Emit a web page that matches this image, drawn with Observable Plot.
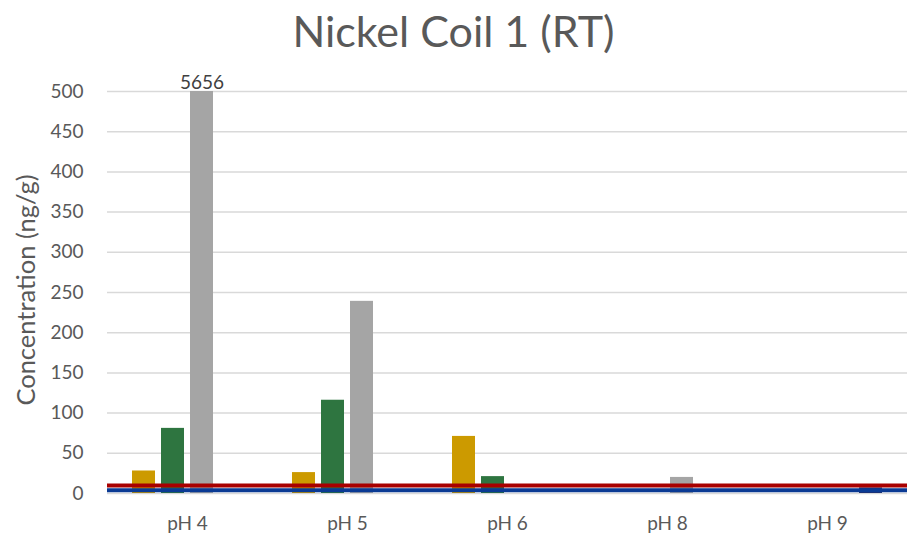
<!DOCTYPE html>
<html>
<head>
<meta charset="utf-8">
<script src="https://cdn.jsdelivr.net/npm/d3@7"></script>
<script src="https://cdn.jsdelivr.net/npm/@observablehq/plot@0.6"></script>
<style>
  html, body { margin: 0; padding: 0; background: #fff; }
  #wrap { position: relative; width: 907px; height: 536px; font-family: Lato, "Open Sans", sans-serif; }
  #title { position: absolute; left: 0; top: 3px; width: 907px; text-align: center; font-size: 43px; line-height: 56px; color: #595959; }
  #ylabel { position: absolute; left: 25px; top: 290px; transform: translate(-50%, -50%) rotate(-90deg); white-space: nowrap; font-size: 25.5px; color: #595959; }
  #chart { position: absolute; left: 0; top: 0; }
</style>
</head>
<body>
<div id="wrap">
  <div id="chart"></div>
  <div id="title">Nickel Coil 1 (RT)</div>
  <div id="ylabel">Concentration (ng/g)</div>
</div>
<script>
// pH groups along the bottom
const phLevels = ["pH 4", "pH 5", "pH 6", "pH 8", "pH 9"];
// four sample series, one bar each per pH group (ng/g)
const series1 = [28, 26, 71, 0, 0];
const series2 = [81, 116, 21, 0, 0];
const series3 = [5656, 239, 0, 20, 0];
const series4 = [0, 0, 0, 0, 7];
const seriesNames = ["S1", "S2", "S3", "S4"];
const seriesColors = ["#CC9A00", "#2E7540", "#A5A5A5", "#22306E"];
// reference levels drawn as horizontal lines
const limitRed = 10;
const limitBlue = 4;
const yTicks = [0, 50, 100, 150, 200, 250, 300, 350, 400, 450, 500];
const yMax = 500;

const allSeries = [series1, series2, series3, series4];
const rows = [];
phLevels.forEach((ph, i) => {
  allSeries.forEach((vals, j) => {
    rows.push({ph, series: seriesNames[j], value: vals[i]});
  });
});
// values above the axis maximum get their number written on top
const overflow = rows.filter(d => d.value > yMax);

const chart = Plot.plot({
  width: 907,
  height: 536,
  marginTop: 91,
  marginBottom: 43,
  marginLeft: 107,
  marginRight: 0,
  style: {fontFamily: "Lato, 'Open Sans', sans-serif", color: "#595959", background: "transparent"},
  fx: {domain: phLevels, padding: 0, label: null},
  x: {domain: seriesNames, paddingInner: 0.21, paddingOuter: 0.815, axis: null},
  y: {domain: [0, yMax], clamp: true},
  color: {domain: seriesNames, range: seriesColors},
  marks: [
    Plot.gridY(yTicks, {stroke: "#d9d9d9", strokeOpacity: 1, strokeWidth: 1.5}),
    Plot.axisY(yTicks, {tickSize: 0, tickPadding: 24, fontSize: 19, fill: "#595959", label: null}),
    Plot.axisFx({anchor: "bottom", tickSize: 0, tickPadding: 23, fontSize: 19, fill: "#595959", label: null}),
    Plot.barY(rows.filter(d => d.value > 0), {fx: "ph", x: "series", y: "value", fill: "series"}),
    Plot.ruleY([limitRed], {stroke: "#A80000", strokeWidth: 4}),
    Plot.ruleY([limitBlue], {stroke: "#0A3A94", strokeWidth: 4}),
    Plot.text(overflow, {fx: "ph", x: "series", y: "value", text: d => String(d.value),
      lineAnchor: "bottom", dy: -3, fontSize: 19, fill: "#404040"})
  ]
});
document.getElementById("chart").appendChild(chart);
</script>
</body>
</html>
